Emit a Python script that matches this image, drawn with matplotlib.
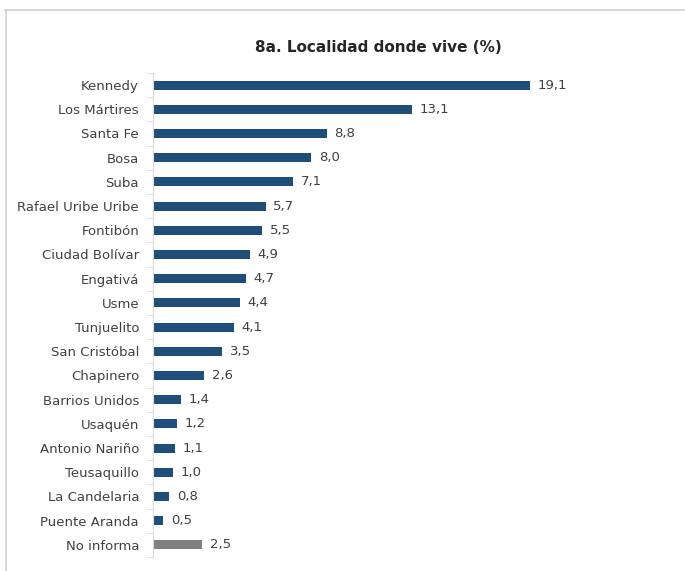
import numpy as np
import matplotlib
matplotlib.use('Agg')
import matplotlib.pyplot as plt
from matplotlib.lines import Line2D

localidades = ['Kennedy', 'Los Mártires', 'Santa Fe', 'Bosa', 'Suba',
               'Rafael Uribe Uribe', 'Fontibón', 'Ciudad Bolívar', 'Engativá',
               'Usme', 'Tunjuelito', 'San Cristóbal', 'Chapinero',
               'Barrios Unidos', 'Usaquén', 'Antonio Nariño', 'Teusaquillo',
               'La Candelaria', 'Puente Aranda', 'No informa']
porcentajes = [19.1, 13.1, 8.8, 8.0, 7.1, 5.7, 5.5, 4.9, 4.7, 4.4, 4.1, 3.5,
               2.6, 1.4, 1.2, 1.1, 1.0, 0.8, 0.5, 2.5]

azul = '#1f4e79'
gris = '#808080'
colores = [azul] * (len(localidades) - 1) + [gris]

plt.rcParams['font.family'] = ['DejaVu Sans']

fig = plt.figure(figsize=(6.85, 5.71), dpi=100)
ax = fig.add_axes([153 / 685, 1 - 557 / 571, (640 - 153) / 685, (557 - 73) / 571])

y = np.arange(len(localidades))
ax.barh(y, porcentajes, height=0.38, color=colores)
ax.set_ylim(len(localidades) - 0.5, -0.5)
ax.set_xlim(0, (640 - 153) / 19.74)

for yi, v in zip(y, porcentajes):
    ax.text(v + 0.4, yi, ('%.1f' % v).replace('.', ','), va='center', ha='left',
            fontsize=9.5, color='#404040')

ax.set_yticks(y)
ax.set_yticklabels(localidades, fontsize=9.5, color='#404040')
ax.set_yticks(np.arange(len(localidades) + 1) - 0.5, minor=True)
ax.tick_params(axis='y', which='major', length=0, pad=10)
ax.tick_params(axis='y', which='minor', length=4, color='#d9d9d9', direction='out')
ax.set_xticks([])

for s in ['top', 'right', 'bottom']:
    ax.spines[s].set_visible(False)
ax.spines['left'].set_color('#d9d9d9')

fig.text(378 / 685, 1 - 47 / 571, '8a. Localidad donde vive (%)', ha='center',
         va='center', fontsize=11, fontweight='bold', color='#262626')

# marco del recuadro
fig.add_artist(Line2D([5 / 685, 684 / 685], [1 - 10 / 571] * 2, color='#cfcfcf', lw=1.2))
fig.add_artist(Line2D([6 / 685] * 2, [1 - 10 / 571, 0], color='#cfcfcf', lw=1.2))

fig.savefig('out.png', dpi=100)
